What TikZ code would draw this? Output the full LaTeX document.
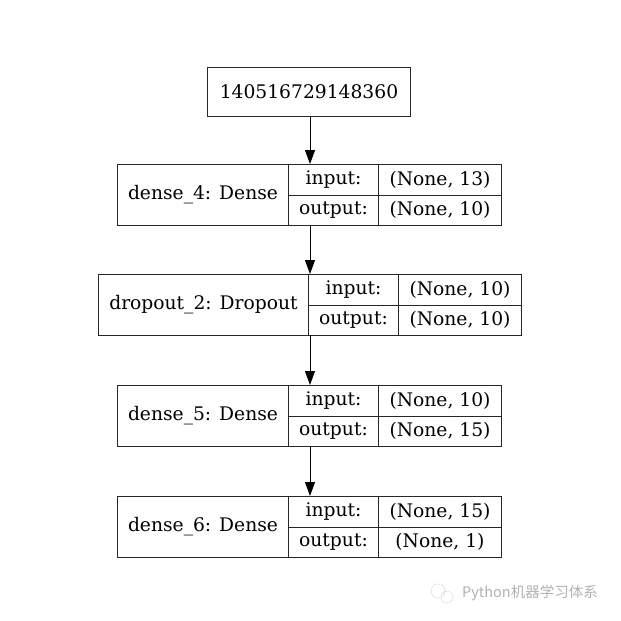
\documentclass[tikz,border=0pt]{standalone}
\usepackage{fontspec}
\setmainfont{DejaVu Serif}
\newfontfamily\cjkfont{Noto Sans CJK SC}
\usetikzlibrary{arrows.meta}
\tikzset{
  cell/.style={draw=black!85, line width=1pt, inner sep=0pt, anchor=north west, font=\fontsize{18.7}{22}\selectfont},
  outline/.style={inner sep=0pt, anchor=north west},
  link/.style={draw=black, line width=1pt, -{Triangle[length=14pt,width=10pt]}},
}
% #1 name, #2 x1, #3 x2, #4 x3, #5 x4, #6 ytop, #7 label, #8 in, #9 out
\newcommand{\krec}[9]{%
  \node[outline, minimum width={(#5-#2)*1pt}, minimum height=61pt] (#1) at (#2,#6) {};
  \node[cell, minimum width={(#3-#2)*1pt}, minimum height=61pt] (#1l) at (#2,#6) {#7};
  \node[cell, minimum width={(#4-#3)*1pt}, minimum height=30.5pt] (#1i) at (#3,#6) {input:};
  \node[cell, minimum width={(#4-#3)*1pt}, minimum height=30.5pt] (#1o) at (#3,#6+30.5) {output:};
  \node[cell, minimum width={(#5-#4)*1pt}, minimum height=30.5pt] (#1iv) at (#4,#6) {#8};
  \node[cell, minimum width={(#5-#4)*1pt}, minimum height=30.5pt] (#1ov) at (#4,#6+30.5) {#9};
}
\begin{document}
\begin{tikzpicture}[x=1pt,y=-1pt]
\useasboundingbox[fill=white] (0,0) rectangle (621,621);
\node[cell, minimum width=203pt, minimum height=49pt] (top) at (207,67) {140516729148360};
\krec{d4}{117}{288}{378}{501}{164}{dense\_4: Dense}{(None, 13)}{(None, 10)}
\krec{dr}{98}{308}{398}{521}{274}{dropout\_2: Dropout}{(None, 10)}{(None, 10)}
\krec{d5}{117}{288}{378}{501}{385}{dense\_5: Dense}{(None, 10)}{(None, 15)}
\krec{d6}{117}{288}{378}{501}{496}{dense\_6: Dense}{(None, 15)}{(None, 1)}
\draw[link] (top.south -| 310,0) -- (d4.north -| 310,0);
\draw[link] (d4.south -| 310,0) -- (dr.north -| 310,0);
\draw[link] (dr.south -| 310,0) -- (d5.north -| 310,0);
\draw[link] (d5.south -| 310,0) -- (d6.north -| 310,0);
% watermark
\draw[gray!45, line width=0.7pt, densely dotted] (438,591) circle (7);
\draw[gray!45, line width=0.7pt, densely dotted] (447,597) circle (6);
\node[anchor=west, inner sep=0pt, text=gray!60, font=\cjkfont\fontsize{14.5}{16}\selectfont] (wm) at (462,593) {Python机器学习体系};
\end{tikzpicture}
\end{document}
